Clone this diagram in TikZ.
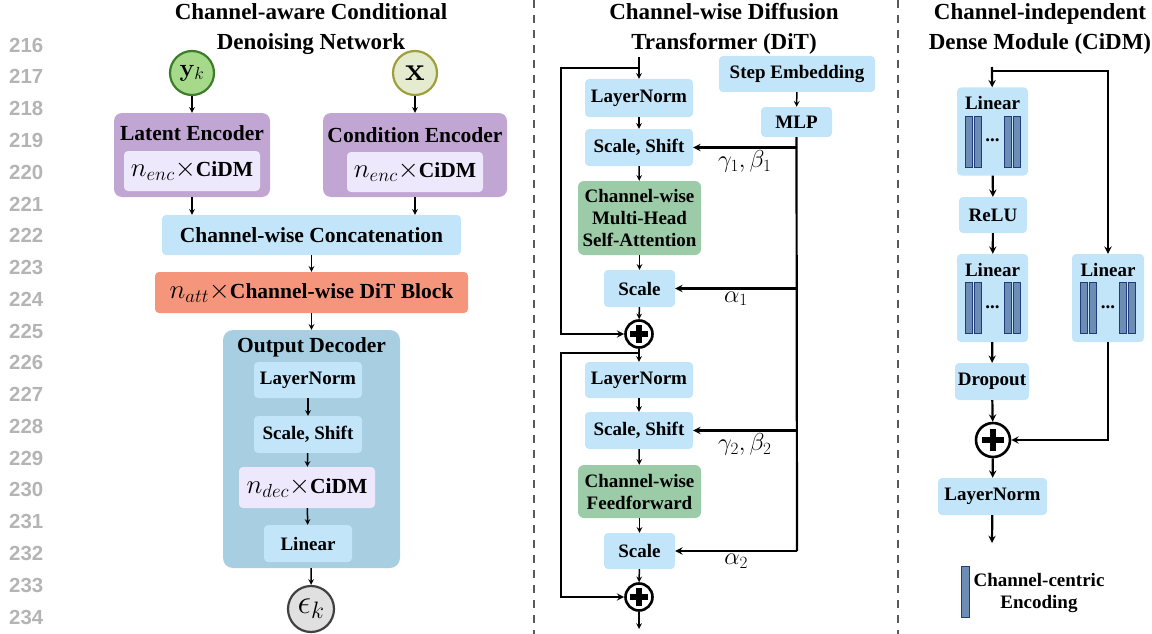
\RequirePackage{fix-cm}
\documentclass[tikz,border=0pt]{standalone}
\usepackage{amsmath}
\usepackage{amssymb}
\usepackage[no-math]{fontspec}
\setmainfont{Liberation Serif}
\setsansfont{Liberation Sans}
\usepackage{xcolor}
\usetikzlibrary{shapes,arrows,positioning,fit,backgrounds,calc}

\definecolor{boxblue}{HTML}{C2E5FA}
\definecolor{encpurple}{HTML}{C1A6D3}
\definecolor{cidmlav}{HTML}{EEE8FC}
\definecolor{ditsalmon}{HTML}{F5957C}
\definecolor{decblue}{HTML}{A8CEE2}
\definecolor{attgreen}{HTML}{9CCBA8}
\definecolor{ykfill}{HTML}{A6D98A}
\definecolor{ykdraw}{HTML}{3B7D2A}
\definecolor{xfill}{HTML}{E4EBCF}
\definecolor{xdraw}{HTML}{9E9E3A}
\definecolor{epsfill}{HTML}{E0E0E0}
\definecolor{barfill}{HTML}{6E8DB4}
\definecolor{bardraw}{HTML}{1E3D7A}
\definecolor{linenum}{HTML}{B4B4B4}

% math set larger than the surrounding text
\newcommand{\mathsz}[2]{{\fontsize{#1}{#1}\selectfont$#2$}}

\begin{document}
\begin{tikzpicture}[x=1pt, y=-1pt,
    title/.style={font=\fontsize{23}{30}\selectfont\bfseries, align=center},
    block/.style={rectangle, rounded corners=4pt, fill=boxblue, inner sep=0pt, align=center, font=\fontsize{19}{22}\selectfont\bfseries},
    bigblock/.style={block, font=\fontsize{21.5}{25}\selectfont\bfseries},
    encoder/.style={rectangle, rounded corners=8pt, fill=encpurple, inner sep=0pt},
    cidm/.style={bigblock, fill=cidmlav},
    attn/.style={block, fill=attgreen, rounded corners=6pt},
    linbox/.style={block, minimum width=71, minimum height=88},
    lintitle/.style={anchor=north, yshift=-9pt, inner sep=0pt, font=\fontsize{19}{22}\selectfont\bfseries},
    bar/.style={fill=barfill, draw=bardraw, line width=0.8pt},
    var/.style={circle, line width=2.2pt, minimum size=44, inner sep=0pt},
    summ/.style={circle, draw, line width=2.6pt, fill=white, minimum size=#1, inner sep=0pt, path picture={
        \draw[line width=0.2*#1] ([xshift=-0.32*#1]path picture bounding box.center) -- ([xshift=0.32*#1]path picture bounding box.center);
        \draw[line width=0.2*#1] ([yshift=-0.32*#1]path picture bounding box.center) -- ([yshift=0.32*#1]path picture bounding box.center);}},
    coef/.style={font=\fontsize{24.5}{26}\selectfont, inner sep=0pt, below},
    arrow/.style={->, >=stealth, line width=1.5pt},
    link/.style={line width=2.2pt},
    sep/.style={draw=black!65, line width=2pt, dash pattern=on 8pt off 7pt},
    linenum/.style={font=\sffamily\bfseries\fontsize{20.4}{22}\selectfont, text=linenum, anchor=west, inner sep=0pt},
]
\useasboundingbox (0,0) rectangle (1152,634);

% Line numbers
\foreach \num [count=\k from 0] in {216,...,234}
    \node[linenum] at (9, 45+31.78*\k) {\num};

% Panel separators
\draw[sep] (534,0) -- (534,634);
\draw[sep] (898,0) -- (898,634);

% Panel 1: Denoising network
\node[title] (ttl_net) at (311,29) {Channel-aware Conditional\\Denoising Network};

\node[var, draw=ykdraw, fill=ykfill] (yk) at (192,73) {\mathsz{25}{\mathbf{y}_k}};
\node[var, draw=xdraw, fill=xfill] (xin) at (415,73) {\mathsz{33}{\mathbf{x}}};

\node[encoder, minimum width=156, minimum height=84] (latenc) at (192,155) {};
\node[bigblock, fill=none] (latenc_t) at (192,133) {Latent Encoder};
\node[cidm, minimum width=136, minimum height=40] (latenc_in) at (192,171) {\mathsz{27}{n_{enc}\times}CiDM};

\node[encoder, minimum width=184, minimum height=84] (condenc) at (415,155) {};
\node[bigblock, fill=none] (condenc_t) at (415,135) {Condition Encoder};
\node[cidm, minimum width=136, minimum height=40] (condenc_in) at (415,172) {\mathsz{27}{n_{enc}\times}CiDM};

\node[bigblock, minimum width=299, minimum height=40] (concat) at (311.5,235) {Channel-wise Concatenation};
\node[bigblock, fill=ditsalmon, minimum width=313, minimum height=41] (ditblk) at (311.5,292.5) {\mathsz{27}{n_{att}\times}Channel-wise DiT Block};

\node[encoder, fill=decblue, rounded corners=10pt, minimum width=177, minimum height=238] (outdec) at (311.5,449) {};
\node[bigblock, fill=none] (outdec_t) at (311.5,347) {Output Decoder};
\node[block, minimum width=108, minimum height=36] (dln) at (308,380) {LayerNorm};
\node[block, minimum width=108, minimum height=37] (dss) at (308,434.5) {Scale, Shift};
\node[cidm, minimum width=136, minimum height=41] (dcidm) at (307,487.5) {\mathsz{27}{n_{dec}\times}CiDM};
\node[block, minimum width=88, minimum height=37] (dlin) at (308,543.5) {Linear};

\node[var, draw=black!75, fill=epsfill, minimum size=46] (eps) at (311,609) {\mathsz{34}{\epsilon_k}};

\draw[arrow] (yk) -- (latenc);
\draw[arrow] (xin) -- (condenc);
\draw[arrow] (latenc.south) -- (latenc.south |- concat.north);
\draw[arrow] (condenc.south) -- (condenc.south |- concat.north);
\draw[arrow] (concat) -- (ditblk);
\draw[arrow] (ditblk) -- (outdec);
\draw[arrow] (dln) -- (dss);
\draw[arrow] (dss) -- (dcidm);
\draw[arrow] (dcidm) -- (dlin);
\draw[arrow] (outdec) -- (eps);

% Panel 2: DiT block
\node[title] (ttl_dit) at (724,29) {Channel-wise Diffusion\\Transformer (DiT)};

\node[block, minimum width=108, minimum height=38] (ln1) at (639,98) {LayerNorm};
\node[block, minimum width=108, minimum height=37] (ss1) at (639,147.5) {Scale, Shift};
\node[attn, minimum width=123, minimum height=74] (mhsa) at (639.5,218) {Channel-wise\\Multi-Head\\Self-Attention};
\node[block, minimum width=71, minimum height=37] (sc1) at (639.5,288.5) {Scale};
\node[summ=27] (add1) at (639,334) {};

\node[block, minimum width=108, minimum height=36] (ln2) at (639,380) {LayerNorm};
\node[block, minimum width=108, minimum height=37] (ss2) at (639,430.5) {Scale, Shift};
\node[attn, minimum width=123, minimum height=53] (ffn) at (639.5,491.5) {Channel-wise\\Feedforward};
\node[block, minimum width=71, minimum height=36] (sc2) at (639.5,551) {Scale};
\node[summ=27] (add2) at (639,597) {};

\node[block, minimum width=156, minimum height=36] (stepemb) at (797,74) {Step Embedding};
\node[block, minimum width=71, minimum height=30] (mlp) at (796.5,122) {MLP};

\coordinate (dit_in) at (639,57);
\coordinate (br1) at (639,68);
\coordinate (skip1) at (561,68);
\coordinate (br2) at (639,353);
\coordinate (skip2) at (561,353);
\coordinate (dit_out) at (639,629);
\coordinate (trunk) at (797,551);

\draw[arrow] (dit_in) -- (ln1);
\draw[arrow] (ln1) -- (ss1);
\draw[arrow] (ss1) -- (mhsa);
\draw[arrow] (mhsa) -- (sc1);
\draw[arrow] (sc1) -- (add1);
\draw[arrow] (add1) -- (ln2);
\draw[arrow] (ln2) -- (ss2);
\draw[arrow] (ss2) -- (ffn);
\draw[arrow] (ffn) -- (sc2);
\draw[arrow] (sc2) -- (add2);
\draw[arrow] (add2) -- (dit_out);

\draw[arrow, link] (br1) -- (skip1) |- (add1);
\draw[arrow, link] (br2) -- (skip2) |- (add2);

\draw[arrow] (stepemb) -- (mlp);
\draw[link] (mlp.south) -- (trunk);
\draw[arrow, link] (mlp.south |- ss1) -- node[coef, yshift=-2pt] {$\gamma_1,\beta_1$} (ss1);
\draw[arrow, link] (mlp.south |- sc1) -- node[coef, yshift=-2pt] {$\alpha_1$} (sc1);
\draw[arrow, link] (mlp.south |- ss2) -- node[coef, yshift=-2pt] {$\gamma_2,\beta_2$} (ss2);
\draw[arrow, link] (trunk) -- node[coef, yshift=-2pt] {$\alpha_2$} (sc2);

% Panel 3: CiDM
\node[title] (ttl_cidm) at (1040,29) {Channel-independent\\Dense Module (CiDM)};

\node[linbox, label={[lintitle]north:Linear}] (lin1) at (992.5,131.5) {};
\node[block, minimum width=68, minimum height=36] (relu) at (993,215) {ReLU};
\node[linbox, label={[lintitle]north:Linear}] (lin2) at (992.5,298) {};
\node[linbox, minimum width=72, label={[lintitle]north:Linear}] (lin3) at (1108,298) {};
\node[block, minimum width=74, minimum height=37] (drop) at (992,381.5) {Dropout};
\node[summ=34] (add3) at (993,440) {};
\node[block, minimum width=109, minimum height=37] (lnr) at (992.5,496.5) {LayerNorm};

\foreach \n in {lin1,lin2,lin3} {
    \foreach \dx in {-27.5,-18.5,11.5,20.5}
        \draw[bar] ([xshift=\dx pt, yshift=-29pt]\n.north) rectangle ++(7,51);
    \node[font=\fontsize{19}{22}\selectfont\bfseries, inner sep=0pt] at ([yshift=-53pt]\n.north) {...};
}

\coordinate (cidm_in) at (992,67);
\coordinate (cidm_br) at (992,71);
\coordinate (cidm_out) at (992,543);

\draw[arrow, link] (cidm_in) -- (lin1);
\draw[arrow, link] (cidm_br) -| (lin3);
\draw[arrow, link] (lin1) -- (relu);
\draw[arrow, link] (relu) -- (lin2);
\draw[arrow, link] (lin2) -- (drop);
\draw[arrow, link] (drop) -- (add3);
\draw[arrow, link] (lin3) |- (add3);
\draw[arrow, link] (add3) -- (lnr);
\draw[arrow, link] (lnr) -- (cidm_out);

% Legend
\node[bar, rectangle, minimum width=8, minimum height=51, inner sep=0pt] (legbar) at (965,591.5) {};
\node[block, fill=none] (legtxt) at (1039,593) {Channel-centric\\Encoding};

\end{tikzpicture}
\end{document}
